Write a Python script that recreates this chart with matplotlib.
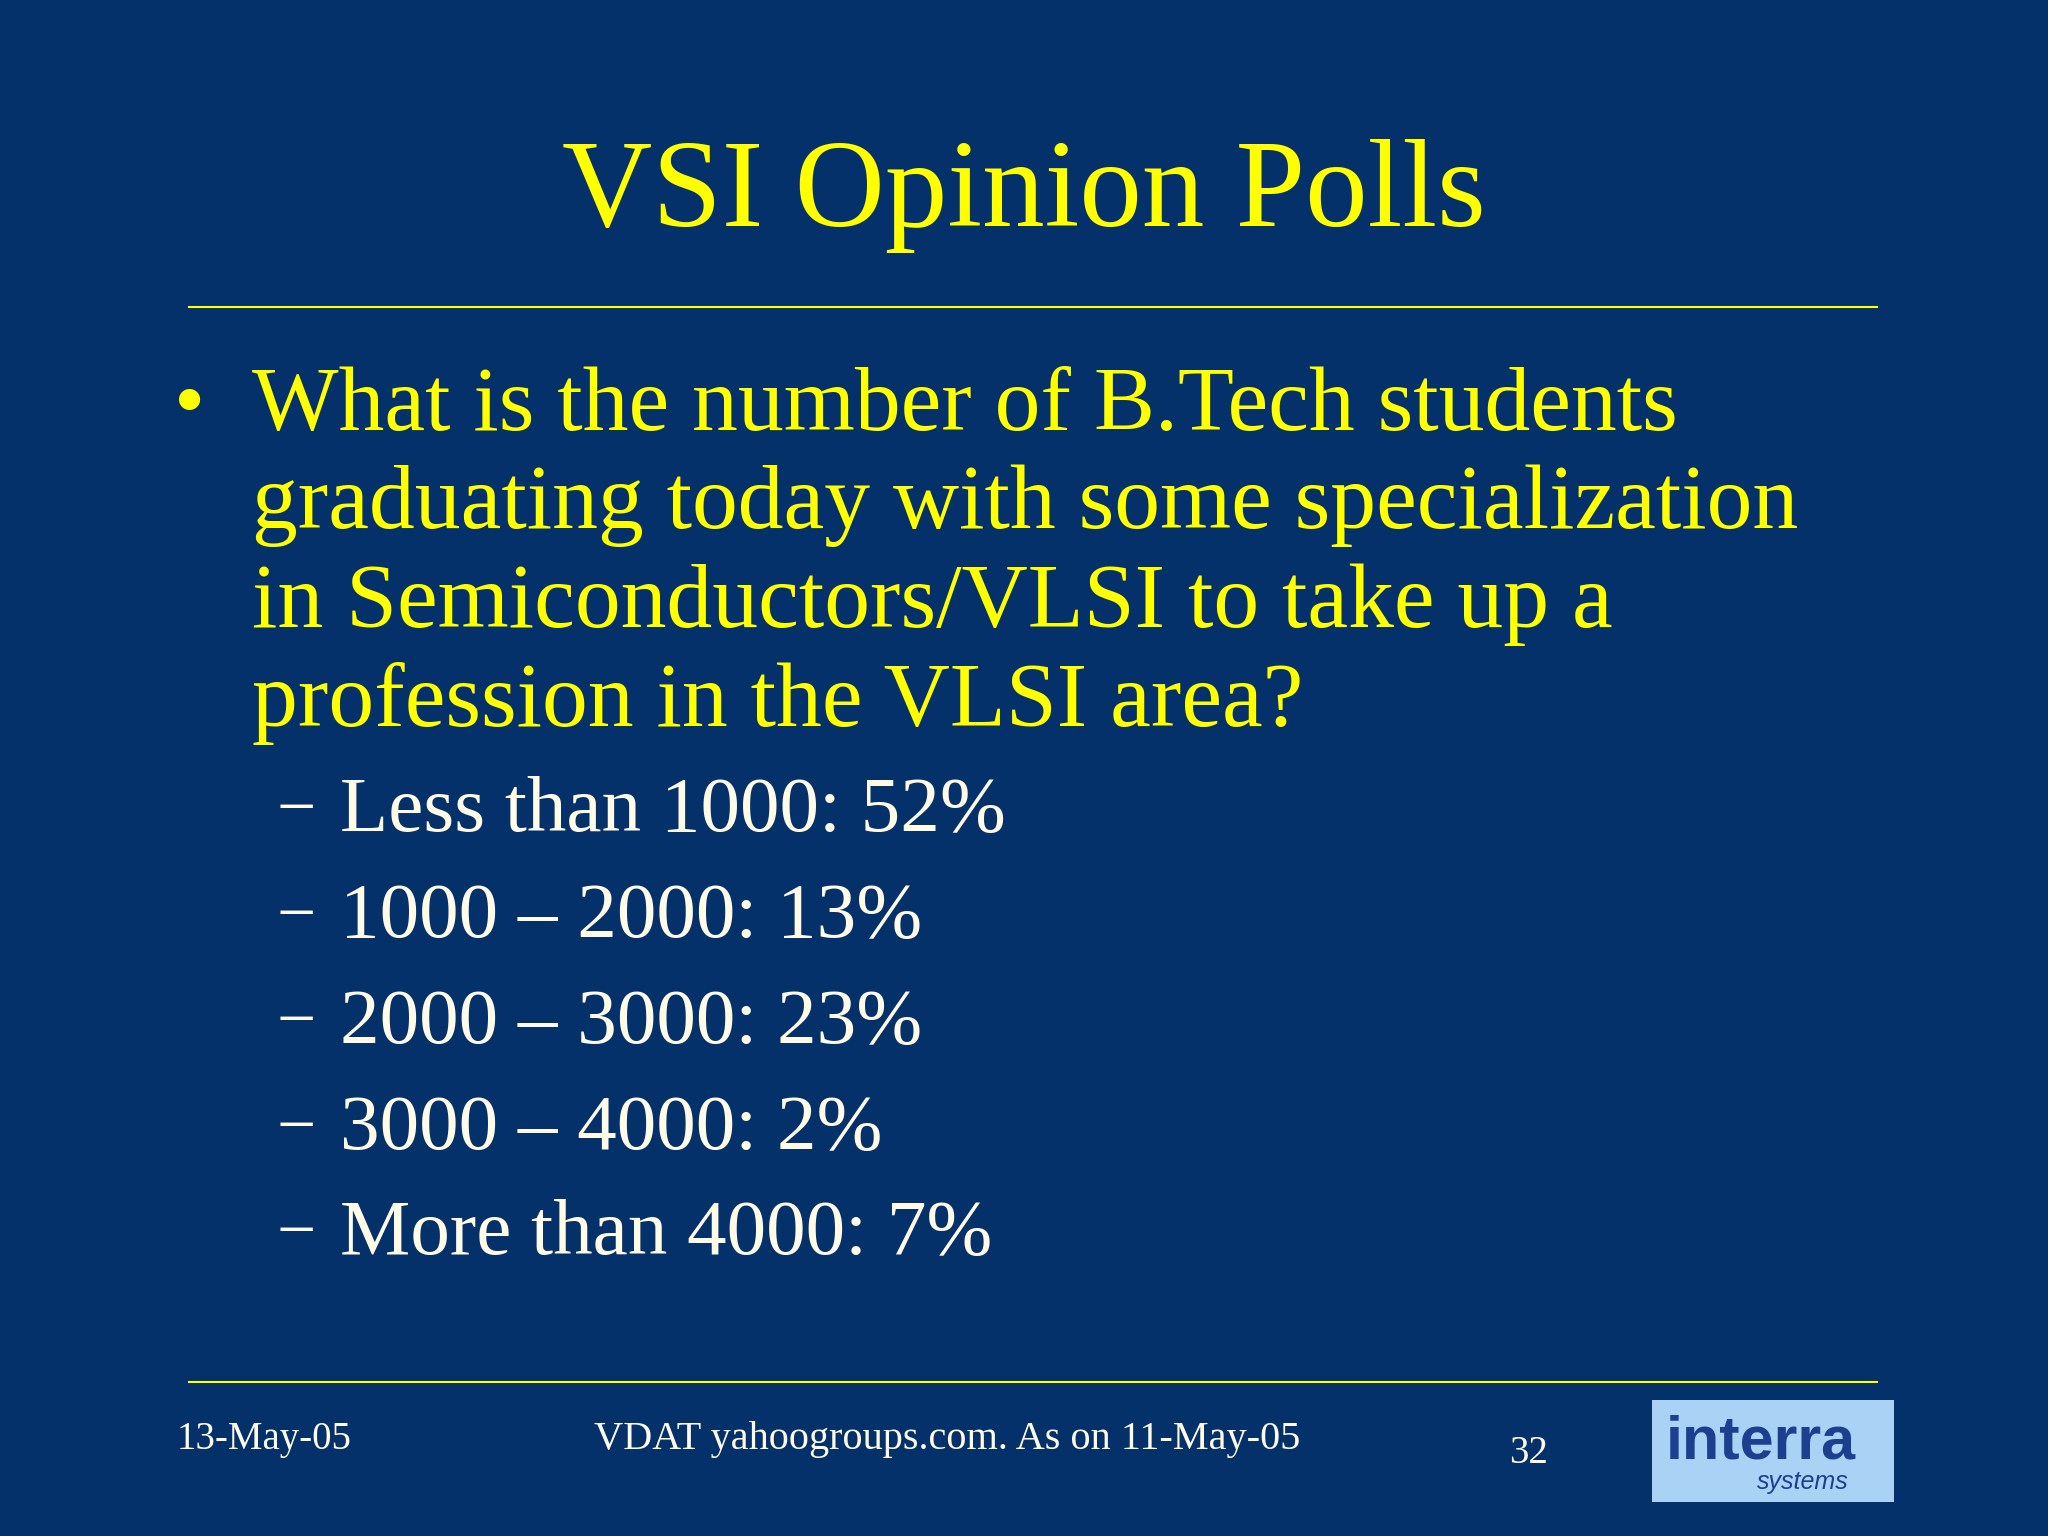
import matplotlib.pyplot as plt
from matplotlib.patches import Rectangle

title = "VSI Opinion Polls"
question = ["What is the number of B.Tech students",
            "graduating today with some specialization",
            "in Semiconductors/VLSI to take up a",
            "profession in the VLSI area?"]
answers = ["Less than 1000: 52%", "1000 \u2013 2000: 13%", "2000 \u2013 3000: 23%",
           "3000 \u2013 4000: 2%", "More than 4000: 7%"]
footer_date = "13-May-05"
footer_src = "VDAT yahoogroups.com. As on 11-May-05"
page_no = "32"

W, H = 1568, 1176
bg = '#05316a'
yellow = '#ffff00'
cream = '#fffbe6'
serif = ['Liberation Serif', 'DejaVu Serif']

fig = plt.figure(figsize=(20.48, 15.36), dpi=100, facecolor=bg)

def px(x, y):
    return x / W, 1 - y / H

fig.text(*px(784, 150), title, color=yellow, fontsize=90, family=serif, ha='center', va='center')
for yy in (235, 1058):
    fig.add_artist(plt.Line2D([145 / W, 1437 / W], [1 - yy / H] * 2, color=yellow, lw=1.5))

fig.text(*px(133, 312), "\u2022", color=yellow, fontsize=64, family=serif, ha='left', va='center')
for i, line in enumerate(question):
    fig.text(*px(193, 312 + i * 75.5), line, color=yellow, fontsize=66, family=serif, ha='left', va='center')

for i, a in enumerate(answers):
    y = 622 + i * 81
    fig.text(*px(212, y), "\u2212", color=cream, fontsize=50, family=serif, ha='left', va='center')
    fig.text(*px(260, y), a, color=cream, fontsize=57, family=serif, ha='left', va='center')

fig.text(*px(135, 1102), footer_date, color=cream, fontsize=28, family=serif, ha='left', va='center')
fig.text(*px(725, 1102), footer_src, color=cream, fontsize=29, family=serif, ha='center', va='center')
fig.text(*px(1170, 1113), page_no, color=cream, fontsize=28, family=serif, ha='center', va='center')

# logo
x0, y0 = px(1265, 1150)
fig.add_artist(Rectangle((x0, y0), 185 / W, 78 / H, transform=fig.transFigure,
                         facecolor='#a9d2f5', edgecolor='none'))
fig.text(*px(1348, 1105), "interra", color='#1c3f8f', fontsize=44, fontweight='bold',
         family=['Liberation Sans Narrow', 'Liberation Sans', 'DejaVu Sans'], ha='center', va='center')
fig.text(*px(1380, 1135), "systems", color='#1c3f8f', fontsize=18, style='italic',
         family=['Liberation Sans', 'DejaVu Sans'], ha='center', va='center')

fig.savefig("out.png", dpi=100, facecolor=bg)
